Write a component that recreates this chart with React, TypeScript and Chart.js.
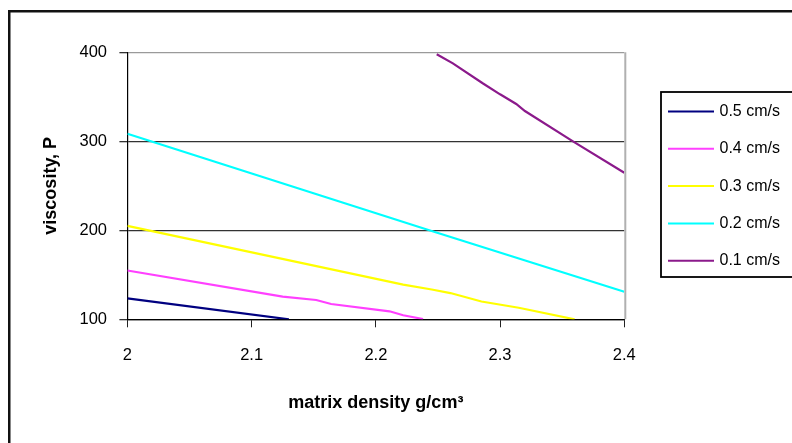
import React, { useEffect, useRef } from "react";
import { Chart, registerables } from "chart.js";

Chart.register(...registerables);

const seriesLabels = ["0.5 cm/s", "0.4 cm/s", "0.3 cm/s", "0.2 cm/s", "0.1 cm/s"];
const seriesColors = ["#000080", "#ff40ff", "#ffff00", "#00ffff", "#8b1a8b"];

const s05x = [2.0, 2.13];
const s05y = [123.5, 100];
const s04x = [2.0, 2.125, 2.152, 2.164, 2.211, 2.222, 2.238];
const s04y = [154.8, 125.4, 121.7, 117.2, 109, 104.5, 100.3];
const s03x = [2.0, 2.222, 2.245, 2.26, 2.285, 2.315, 2.36];
const s03y = [205, 139, 133.5, 129.5, 120, 113, 100];
const s02x = [2.0, 2.243, 2.4];
const s02y = [308.5, 200, 131];
const s01x = [2.249, 2.262, 2.286, 2.3, 2.313, 2.32, 2.359, 2.4];
const s01y = [397.8, 387.6, 365.2, 352.8, 341.9, 334, 299.6, 264.7];

const xTickValues = [2, 2.1, 2.2, 2.3, 2.4];
const xTickLabels = ["2", "2.1", "2.2", "2.3", "2.4"];
const yTickValues = [100, 200, 300, 400];

const xTitle = "matrix density g/cm³";
const yTitle = "viscosity, P";

const FONT = "'Liberation Sans', Arial, sans-serif";

function pts(xs: number[], ys: number[]) {
  return xs.map((x, i) => ({ x, y: ys[i] }));
}

const frameAndLegend = {
  id: "frameAndLegend",
  afterDraw(chart: any) {
    const ctx = chart.ctx;
    const a = chart.chartArea;
    ctx.save();
    // plot area right border (gray)
    ctx.strokeStyle = "#b0b0b0";
    ctx.lineWidth = 2;
    ctx.beginPath();
    ctx.moveTo(a.right + 1, a.top);
    ctx.lineTo(a.right + 1, a.bottom);
    ctx.stroke();
    // outer chart frame
    ctx.strokeStyle = "#111";
    ctx.lineWidth = 2.5;
    ctx.strokeRect(9.25, 11.25, 1000, 1000);
    // legend box
    const lx = 661, ly = 92, lw = 200, lh = 185;
    ctx.lineWidth = 1.8;
    ctx.strokeStyle = "#000";
    ctx.strokeRect(lx, ly, lw, lh);
    ctx.font = `16px ${FONT}`;
    ctx.textBaseline = "middle";
    ctx.textAlign = "left";
    chart.data.datasets.forEach((ds: any, i: number) => {
      const y = 111.5 + i * 37.3;
      ctx.strokeStyle = ds.borderColor;
      ctx.lineWidth = 2;
      ctx.beginPath();
      ctx.moveTo(668, y);
      ctx.lineTo(714, y);
      ctx.stroke();
      ctx.fillStyle = "#000";
      ctx.fillText(ds.label, 719.5, y);
    });
    ctx.restore();
  },
};

export default function App() {
  const ref = useRef<HTMLCanvasElement | null>(null);
  useEffect(() => {
    if (!ref.current) return;
    const xs = [s05x, s04x, s03x, s02x, s01x];
    const ys = [s05y, s04y, s03y, s02y, s01y];
    const chart = new Chart(ref.current, {
      type: "scatter",
      data: {
        datasets: seriesLabels.map((label, i) => ({
          label,
          data: pts(xs[i], ys[i]),
          showLine: true,
          borderColor: seriesColors[i],
          backgroundColor: seriesColors[i],
          borderWidth: 2.2,
          pointRadius: 0,
          tension: 0,
        })),
      },
      options: {
        animation: false,
        responsive: false,
        devicePixelRatio: 1,
        layout: { padding: { left: 0, top: 52.3, right: 167.7, bottom: 0 } },
        plugins: {
          legend: { display: false },
          tooltip: { enabled: false },
        },
        scales: {
          x: {
            type: "linear",
            min: 2,
            max: 2.4,
            afterFit: (s: any) => {
              s.height = 123.7;
            },
            afterBuildTicks: (s: any) => {
              s.ticks = xTickValues.map((v) => ({ value: v }));
            },
            ticks: {
              color: "#000",
              font: { family: FONT, size: 16.5 },
              padding: 18.5,
              maxRotation: 0,
              callback: (v: any) => {
                const i = xTickValues.findIndex((t) => Math.abs(t - Number(v)) < 1e-6);
                return i >= 0 ? xTickLabels[i] : "";
              },
            },
            grid: {
              drawOnChartArea: false,
              drawTicks: true,
              tickLength: 8,
              color: "#222",
              tickColor: "#222",
            },
            border: { display: true, color: "#000", width: 1.2 },
            title: {
              display: true,
              text: xTitle,
              color: "#000",
              font: { family: FONT, size: 18, weight: "bold" },
              padding: { top: 0, bottom: 29.5 },
            },
          },
          y: {
            type: "linear",
            min: 100,
            max: 400,
            afterFit: (s: any) => {
              s.width = 127.4;
            },
            afterBuildTicks: (s: any) => {
              s.ticks = yTickValues.map((v) => ({ value: v }));
            },
            ticks: {
              color: "#000",
              font: { family: FONT, size: 16.5 },
              padding: 12.4,
            },
            grid: {
              drawOnChartArea: true,
              drawTicks: true,
              tickLength: 8,
              lineWidth: 1.3,
              color: (c: any) => (c.tick && c.tick.value === 400 ? "#9a9a9a" : "#333"),
              tickColor: "#333",
            },
            border: { display: true, color: "#000", width: 1.2 },
            title: {
              display: true,
              text: yTitle,
              color: "#000",
              font: { family: FONT, size: 18, weight: "bold" },
              padding: { top: 40.2, bottom: 0 },
            },
          },
        },
      },
      plugins: [frameAndLegend],
    });
    return () => chart.destroy();
  }, []);
  return (
    <div style={{ position: "absolute", left: 0, top: 0, width: 792, height: 443, background: "#fff" }}>
      <canvas ref={ref} width={792} height={443} />
    </div>
  );
}
